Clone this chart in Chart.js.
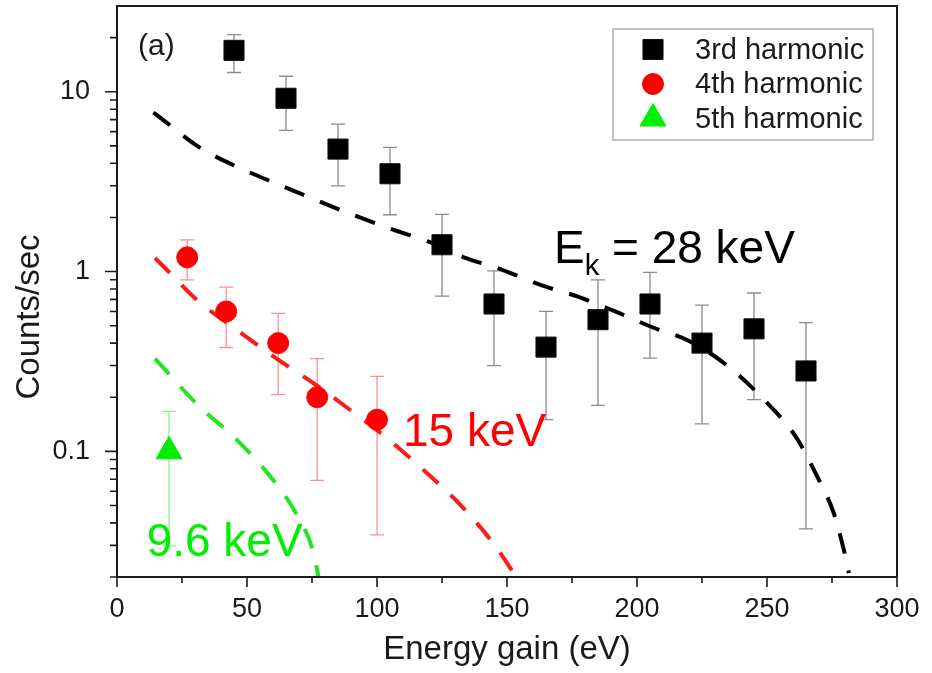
<!DOCTYPE html>
<html>
<head>
<meta charset="utf-8">
<script src="https://cdn.jsdelivr.net/npm/chart.js@4/dist/chart.umd.min.js"></script>
<style>
  html, body { margin: 0; padding: 0; background: #fff; }
  #wrap { width: 932px; height: 673px; }
</style>
</head>
<body>
<div id="wrap"><canvas id="c" width="932" height="673"></canvas></div>
<script>
// Measured harmonic count rates (counts/sec) vs. energy gain (eV), with error bounds
const h3Energy = [45, 65, 85, 105, 125, 145, 165, 185, 205, 225, 245, 265];
const h3Counts = [17, 9.2, 4.8, 3.5, 1.41, 0.66, 0.38, 0.54, 0.66, 0.40, 0.48, 0.28];
const h3Upper  = [20.8, 12.2, 6.6, 4.9, 2.08, 1.01, 0.60, 0.90, 0.99, 0.65, 0.76, 0.52];
const h3Lower  = [12.8, 6.1, 3.0, 2.07, 0.73, 0.30, 0.15, 0.18, 0.33, 0.142, 0.194, 0.037];

const h4Energy = [27, 42, 62, 77, 100];
const h4Counts = [1.2, 0.60, 0.40, 0.20, 0.15];
const h4Upper  = [1.5, 0.82, 0.586, 0.328, 0.261];
const h4Lower  = [0.90, 0.378, 0.207, 0.069, 0.0343];

const h5Energy = [20];
const h5Counts = [0.1];
const h5Upper  = [0.167];
const h5Lower  = [0.0297];

// Model curves for the three electron energies
const fit28Energy = [14, 17.7, 31.9, 46.8, 61.4, 76.2, 90.3, 105.3, 119.6, 133.4, 148.4, 163.1, 177.3, 191.6, 205.9, 220.2, 234.7, 248.8, 261, 269, 275.6, 279.5, 281.5];
const fit28Counts = [7.67, 6.98, 4.89, 3.79, 3.08, 2.51, 2.08, 1.73, 1.47, 1.20, 1.02, 0.84, 0.725, 0.60, 0.49, 0.41, 0.30, 0.194, 0.121, 0.074, 0.0456, 0.0285, 0.021];
const fit15Energy = [14.6, 17.8, 31.5, 45.8, 60.4, 74.7, 89.2, 103.7, 118.5, 132.4, 145, 153.6];
const fit15Counts = [1.19, 1.07, 0.68, 0.477, 0.335, 0.244, 0.172, 0.119, 0.0773, 0.0498, 0.0304, 0.02];
const fit96Energy = [14.6, 17.8, 30.9, 45.8, 59.1, 68.7, 75.5, 77.5];
const fit96Counts = [0.328, 0.292, 0.182, 0.117, 0.072, 0.0456, 0.0276, 0.02];

// Axis ticks
const xMajorTicks = [0, 50, 100, 150, 200, 250, 300];
const xMinorTicks = [25, 75, 125, 175, 225, 275];
const yMajorTicks = [0.1, 1, 10];
const yMinorTicks = [0.02, 0.03, 0.04, 0.05, 0.06, 0.07, 0.08, 0.09,
                     0.2, 0.3, 0.4, 0.5, 0.6, 0.7, 0.8, 0.9,
                     2, 3, 4, 5, 6, 7, 8, 9, 20];

const FONT = '"Liberation Sans", Arial, Helvetica, sans-serif';
const pts = (xs, ys) => xs.map((x, i) => ({ x, y: ys[i] }));

const datasets = [
  {
    label: '3rd harmonic', data: pts(h3Energy, h3Counts),
    pointStyle: 'rect', pointRadius: 14.2, pointHoverRadius: 14.2,
    backgroundColor: '#000', borderColor: '#111', borderWidth: 1,
    showLine: false, order: 1,
    errorBars: { upper: h3Upper, lower: h3Lower, color: '#8c8c8c' }, inLegend: true
  },
  {
    label: '4th harmonic', data: pts(h4Energy, h4Counts),
    pointStyle: 'circle', pointRadius: 10.5, pointHoverRadius: 10.5,
    backgroundColor: '#ff0000', borderColor: '#ff0000', borderWidth: 1,
    showLine: false, order: 1,
    errorBars: { upper: h4Upper, lower: h4Lower, color: '#ff8f8f' }, inLegend: true
  },
  {
    label: '5th harmonic', data: pts(h5Energy, h5Counts),
    pointStyle: 'triangle', pointRadius: 15, pointHoverRadius: 15,
    backgroundColor: '#00ee00', borderColor: '#00ee00', borderWidth: 1,
    showLine: false, order: 1,
    errorBars: { upper: h5Upper, lower: h5Lower, color: '#86f586' }, inLegend: true
  },
  {
    label: '28 keV model', data: pts(fit28Energy, fit28Counts),
    showLine: true, pointRadius: 0, borderColor: '#000', borderWidth: 4,
    borderDash: [21, 17], cubicInterpolationMode: 'monotone', order: 5
  },
  {
    label: '15 keV model', data: pts(fit15Energy, fit15Counts),
    showLine: true, pointRadius: 0, borderColor: '#ff1a1a', borderWidth: 4,
    borderDash: [21, 17], cubicInterpolationMode: 'monotone', order: 5
  },
  {
    label: '9.6 keV model', data: pts(fit96Energy, fit96Counts),
    showLine: true, pointRadius: 0, borderColor: '#22e622', borderWidth: 4,
    borderDash: [21, 17], cubicInterpolationMode: 'monotone', order: 5
  }
];

// Vertical error bars with caps, drawn under the markers
const errorBarPlugin = {
  id: 'errorBars',
  beforeDatasetsDraw(chart) {
    const { ctx, scales: { x, y } } = chart;
    ctx.save();
    chart.data.datasets.forEach(ds => {
      const eb = ds.errorBars;
      if (!eb) return;
      ctx.strokeStyle = eb.color;
      ctx.lineWidth = 1.3;
      ds.data.forEach((p, i) => {
        const px = x.getPixelForValue(p.x);
        const top = y.getPixelForValue(eb.upper[i]);
        const bot = y.getPixelForValue(eb.lower[i]);
        ctx.beginPath();
        ctx.moveTo(px, top); ctx.lineTo(px, bot);
        ctx.moveTo(px - 7, top); ctx.lineTo(px + 7, top);
        ctx.moveTo(px - 7, bot); ctx.lineTo(px + 7, bot);
        ctx.stroke();
      });
    });
    ctx.restore();
  }
};

// Box frame plus outward major/minor tick marks
const framePlugin = {
  id: 'frameTicks',
  afterDatasetsDraw(chart) {
    const { ctx, chartArea: a, scales: { x, y } } = chart;
    ctx.save();
    ctx.strokeStyle = '#1c1c1c';
    ctx.lineWidth = 2;
    ctx.strokeRect(a.left, a.top, a.right - a.left, a.bottom - a.top);
    ctx.lineWidth = 1.6;
    ctx.beginPath();
    yMajorTicks.forEach(v => { const p = y.getPixelForValue(v); ctx.moveTo(a.left - 12, p); ctx.lineTo(a.left, p); });
    yMinorTicks.forEach(v => { const p = y.getPixelForValue(v); ctx.moveTo(a.left - 7, p); ctx.lineTo(a.left, p); });
    xMajorTicks.forEach(v => { const p = x.getPixelForValue(v); ctx.moveTo(p, a.bottom); ctx.lineTo(p, a.bottom + 10); });
    xMinorTicks.forEach(v => { const p = x.getPixelForValue(v); ctx.moveTo(p, a.bottom); ctx.lineTo(p, a.bottom + 6); });
    ctx.stroke();
    ctx.restore();
  }
};

// Panel tag, energy labels, y-axis title and the boxed legend
const labelPlugin = {
  id: 'labels',
  afterDraw(chart) {
    const { ctx, chartArea: a, scales: { x, y } } = chart;
    ctx.save();
    ctx.textAlign = 'left';

    ctx.fillStyle = '#1a1a1a';
    ctx.font = `30px ${FONT}`;
    ctx.textBaseline = 'middle';
    ctx.fillText('(a)', x.getPixelForValue(8.1), y.getPixelForValue(17.9));

    ctx.textBaseline = 'alphabetic';
    // E_k = 28 keV
    let px = x.getPixelForValue(168.1);
    const base = y.getPixelForValue(1.118);
    ctx.fillStyle = '#000';
    ctx.font = `46px ${FONT}`;
    ctx.fillText('E', px, base);
    px += ctx.measureText('E').width;
    ctx.font = `29px ${FONT}`;
    ctx.fillText('k', px, base + 12);
    px += ctx.measureText('k').width;
    ctx.font = `46px ${FONT}`;
    ctx.fillText(' = 28 keV', px, base);

    ctx.fillStyle = '#ff0000';
    ctx.fillText('15 keV', x.getPixelForValue(110), y.getPixelForValue(0.1076));
    ctx.fillStyle = '#00ee00';
    ctx.fillText('9.6 keV', x.getPixelForValue(11.4), y.getPixelForValue(0.0261));

    // y-axis title
    ctx.save();
    ctx.translate(30, 317);
    ctx.rotate(-Math.PI / 2);
    ctx.textAlign = 'center';
    ctx.textBaseline = 'middle';
    ctx.fillStyle = '#1a1a1a';
    ctx.font = `33px ${FONT}`;
    ctx.fillText('Counts/sec', 0, 0);
    ctx.restore();

    // legend
    const bx = a.right - 284, by = a.top + 23, bw = 260, bh = 111;
    ctx.strokeStyle = '#9a9a9a';
    ctx.lineWidth = 1.2;
    ctx.strokeRect(bx, by, bw, bh);
    ctx.font = `29px ${FONT}`;
    ctx.textBaseline = 'middle';
    const entries = chart.data.datasets.filter(d => d.inLegend);
    entries.forEach((ds, i) => {
      const cy = by + 20.5 + i * 34.5;
      const cx = bx + 40;
      ctx.fillStyle = ds.backgroundColor;
      ctx.strokeStyle = ds.borderColor;
      ctx.lineWidth = 1;
      Chart.helpers.drawPoint(ctx, { pointStyle: ds.pointStyle, radius: ds.pointRadius, rotation: 0, borderWidth: 1 }, cx, cy);
      ctx.fillStyle = '#1a1a1a';
      ctx.fillText(ds.label, bx + 82, cy + 1);
    });
    ctx.restore();
  }
};

new Chart(document.getElementById('c'), {
  type: 'scatter',
  data: { datasets },
  options: {
    responsive: false,
    animation: false,
    devicePixelRatio: 1,
    layout: { autoPadding: false, padding: { top: 6, right: 35, bottom: 0, left: 0 } },
    plugins: { legend: { display: false }, tooltip: { enabled: false } },
    scales: {
      x: {
        type: 'linear', min: 0, max: 300,
        grid: { display: false, drawTicks: false },
        border: { display: false },
        ticks: { stepSize: 50, padding: 16, color: '#1a1a1a', font: { family: FONT, size: 27 } },
        title: { display: true, text: 'Energy gain (eV)', color: '#1a1a1a',
                 font: { family: FONT, size: 33 }, padding: { top: 0, bottom: 3 } },
        afterFit(s) { s.height = 96; s.paddingLeft = 0; s.paddingRight = 0; }
      },
      y: {
        type: 'logarithmic', min: 0.02, max: 30,
        grid: { display: false, drawTicks: false },
        border: { display: false },
        afterBuildTicks(s) { s.ticks = yMajorTicks.map(v => ({ value: v })); },
        ticks: { padding: 27, color: '#1a1a1a', font: { family: FONT, size: 27 },
                 callback: v => String(v) },
        afterFit(s) { s.width = 117; s.paddingTop = 0; s.paddingBottom = 0; }
      }
    }
  },
  plugins: [errorBarPlugin, framePlugin, labelPlugin]
});
</script>
</body>
</html>
